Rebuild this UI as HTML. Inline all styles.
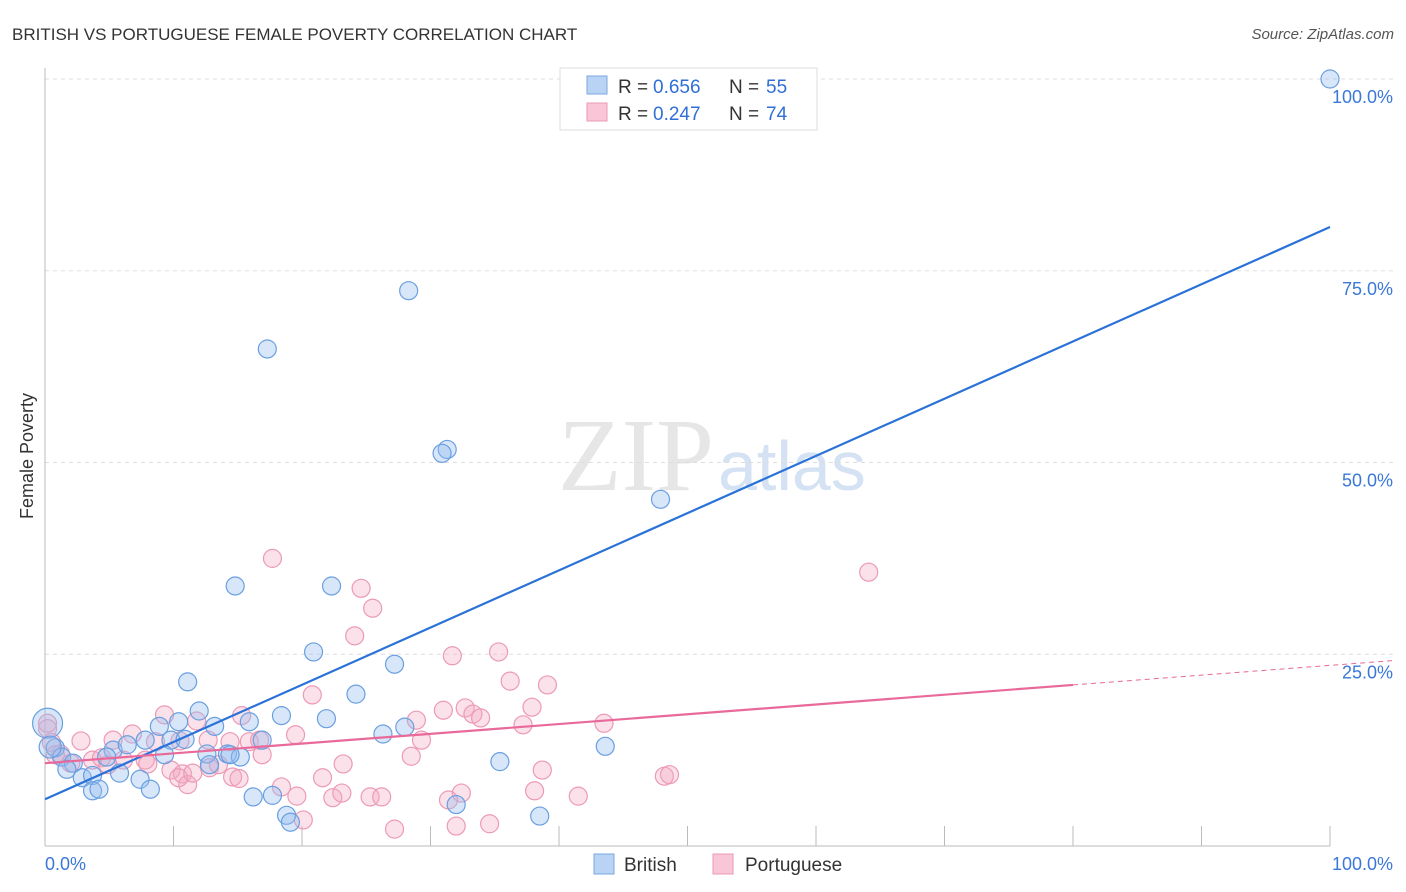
<!DOCTYPE html>
<html><head><meta charset="utf-8"><style>
body{margin:0;background:#fff;font-family:"Liberation Sans",sans-serif;}
svg{display:block}
</style></head><body>
<svg id="c" width="1406" height="892" xmlns="http://www.w3.org/2000/svg">
<text x="12" y="40" font-size="17" fill="#333">BRITISH VS PORTUGUESE FEMALE POVERTY CORRELATION CHART</text>
<text x="1394" y="39" font-size="15" fill="#555" font-style="italic" text-anchor="end">Source: ZipAtlas.com</text>
<text x="33" y="456" font-size="18" fill="#333" text-anchor="middle" transform="rotate(-90 33 456)">Female Poverty</text>
<text x="714" y="490" font-size="104" fill="#e6e6e6" text-anchor="end" font-family="Liberation Serif,serif">ZIP</text>
<text x="718" y="490" font-size="70" fill="#d4e2f4">atlas</text>
<g id="grid"></g><g id="pts"></g><g id="lines"></g>
<g>
<rect x="560" y="68" width="257" height="62" fill="#fff" stroke="#ddd"/>
<rect x="587" y="76" width="20" height="18" fill="#b9d3f5" stroke="#7aa7e0"/>
<text x="618" y="93" font-size="19" fill="#333">R =</text>
<text x="653" y="93" font-size="19" fill="#2f6fd6">0.656</text>
<text x="729" y="93" font-size="19" fill="#333">N =</text>
<text x="766" y="93" font-size="19" fill="#2f6fd6">55</text>
<rect x="587" y="103" width="20" height="18" fill="#f8c6d6" stroke="#ec9ab5"/>
<text x="618" y="120" font-size="19" fill="#333">R =</text>
<text x="653" y="120" font-size="19" fill="#2f6fd6">0.247</text>
<text x="729" y="120" font-size="19" fill="#333">N =</text>
<text x="766" y="120" font-size="19" fill="#2f6fd6">74</text>
</g>
<g>
<rect x="594" y="854" width="20" height="20" fill="#b9d3f5" stroke="#7aa7e0"/>
<text x="624" y="871" font-size="19" fill="#333">British</text>
<rect x="713" y="854" width="20" height="20" fill="#f8c6d6" stroke="#ec9ab5"/>
<text x="745" y="871" font-size="19" fill="#333">Portuguese</text>
</g>
</svg>
<script>
const xTicks=[0,10,20,30,40,50,60,70,80,90,100];
const yTicks=[25,50,75,100];
const yTickLabels=["25.0%","50.0%","75.0%","100.0%"];
const britishX=[100,28.3,17.3,31.3,30.9,47.9,14.8,22.3,20.9,27.2,11.1,24.2,12,8.9,10.4,13.2,15.9,18.4,21.9,26.3,28,7.8,9.8,10.9,5.3,6.4,9.3,12.6,14.2,15.2,16.9,35.4,43.6,0.8,1.3,2.2,1.7,2.9,3.7,5.8,7.4,8.2,3.7,4.2,16.2,17.7,18.8,19.1,32,38.5,0.2,0.4,4.8,14.4,12.8];
const britishY=[100,72.4,64.8,51.7,51.2,45.2,33.9,33.9,25.3,23.7,21.4,19.8,17.6,15.6,16.2,15.6,16.2,17,16.6,14.6,15.5,13.8,13.8,13.9,12.5,13.2,11.9,12,12,11.6,13.8,11,13,12.8,11.6,10.8,10,8.9,9.2,9.5,8.7,7.4,7.2,7.4,6.4,6.6,4,3.1,5.4,3.9,16,12.9,11.6,11.9,10.6];
const britishR=[9,9,9,9,9,9,9,9,9,9,9,9,9,9,9,9,9,9,9,9,9,9,9,9,9,9,9,9,9,9,9,9,9,9,9,9,9,9,9,9,9,9,9,9,9,9,9,9,9,9,15,11,9,9,9];
const portX=[17.7,64.1,24.6,25.5,24.1,31.7,35.3,36.2,39.1,20.8,31,32.7,33.3,33.9,28.9,37.9,37.2,43.5,15.3,11.8,9.3,6.8,2.8,5.3,8.6,10.5,12.7,14.4,15.9,19.5,29.3,28.5,16.9,16.7,1.2,0.2,0.5,3.7,4.4,6.1,7.8,9.8,10.7,12.8,13.5,14.6,8,11.1,10.4,18.4,19.6,21.6,23.2,22.4,23.1,25.3,26.2,32.4,31.4,38.1,38.7,41.5,48.2,48.6,27.2,20.1,32,34.6,0.2,0.8,2,11.5,15.1,4.9];
const portY=[37.5,35.7,33.6,31,27.4,24.8,25.3,21.5,21,19.7,17.7,18,17.2,16.7,16.4,18.1,15.8,16,17,16.3,17.1,14.6,13.7,13.8,13.6,13.7,13.8,13.6,13.6,14.5,13.8,11.7,11.9,13.8,12,15.3,13.5,11.2,11.5,11.2,11.2,9.9,9.4,10.2,10.6,9,10.7,8,8.9,7.7,6.5,8.9,10.7,6.3,6.9,6.4,6.4,6.9,6,7.2,9.9,6.5,9.1,9.3,2.2,3.4,2.6,2.9,16,11.9,10.8,9.5,8.8,10.6];
const blueLine=[6.1,80.7];
const pinkLine=[10.8,21.0];
const ns="http://www.w3.org/2000/svg";
const X=v=>45+v*12.85, Y=v=>846-v*7.67;
function mk(t,a,parent){const e=document.createElementNS(ns,t);for(const k in a)e.setAttribute(k,a[k]);document.getElementById(parent).appendChild(e);return e;}
yTicks.forEach((t,i)=>{
 const g=mk('line',{x1:45,x2:1394,y1:Y(t),y2:Y(t),stroke:'#ddd','stroke-dasharray':'4,4'},'grid');
 
 
 const l=mk('text',{x:1393,y:Y(t)+24,'font-size':18,fill:'#3a78d8','text-anchor':'end'},'grid');l.textContent=yTickLabels[i];
 
 
});
const ax=mk('line',{x1:45,x2:45,y1:68,y2:846,stroke:'#bbb'},'grid');


const bx=mk('line',{x1:45,x2:1330,y1:846,y2:846,stroke:'#bbb'},'grid');


xTicks.forEach(t=>{const e=mk('line',{x1:X(t),x2:X(t),y1:826,y2:846,stroke:'#bbb'},'grid');
 
 });
[["0.0%",45,'start'],["100.0%",1393,'end']].forEach(a=>{const e=mk('text',{x:a[1],y:870,'font-size':18,fill:'#3a78d8','text-anchor':a[2]},'grid');e.textContent=a[0];
 
 });
portX.forEach((x,i)=>{const c=mk('circle',{cx:X(x),cy:Y(portY[i]),r:9,fill:'rgba(244,170,195,0.35)',stroke:'#ec9ab5','stroke-width':1.2},'pts');
 
 });
britishX.forEach((x,i)=>{const c=mk('circle',{cx:X(x),cy:Y(britishY[i]),r:britishR[i],fill:'rgba(150,190,240,0.38)',stroke:'#6a9fe0','stroke-width':1.2},'pts');
 
 });
const bl=mk('line',{x1:X(0),y1:Y(blueLine[0]),x2:X(100),y2:Y(blueLine[1]),stroke:'#2a72d8','stroke-width':2.2},'lines');


const ps=(pinkLine[1]-pinkLine[0])/80;
const pl=mk('line',{x1:X(0),y1:Y(pinkLine[0]),x2:X(80),y2:Y(pinkLine[1]),stroke:'#e8699a','stroke-width':2.2},'lines');


const pd=mk('line',{x1:X(80),y1:Y(pinkLine[1]),x2:X(105),y2:Y(pinkLine[0]+ps*105),stroke:'#e8699a','stroke-width':1,'stroke-dasharray':'5,4'},'lines');


</script>
</body></html>
